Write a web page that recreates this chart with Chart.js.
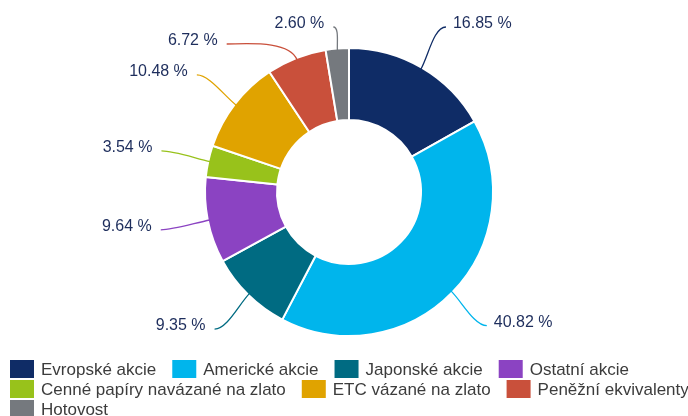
<!DOCTYPE html>
<html>
<head>
<meta charset="utf-8">
<script src="https://cdn.jsdelivr.net/npm/chart.js@4/dist/chart.umd.min.js"></script>
<style>
  html, body { margin: 0; padding: 0; background: #ffffff; }
  #wrap { position: relative; width: 688px; height: 416px; }
</style>
</head>
<body>
<div id="wrap"><canvas id="c" width="688" height="416"></canvas></div>
<script>
const categories = [
  'Evropské akcie',
  'Americké akcie',
  'Japonské akcie',
  'Ostatní akcie',
  'Cenné papíry navázané na zlato',
  'ETC vázané na zlato',
  'Peněžní ekvivalenty',
  'Hotovost'
];
const shares = [16.85, 40.82, 9.35, 9.64, 3.54, 10.48, 6.72, 2.60];
const sliceColors = ['#0f2c66', '#00b5ec', '#006b82', '#8b43c2', '#98c21b', '#e0a300', '#c9503b', '#75797e'];

const LABEL_FONT = '16px "Liberation Sans", Arial, sans-serif';
const LABEL_COLOR = '#1d2d5c';
const LEGEND_FONT = '17px "Liberation Sans", Arial, sans-serif';
const LEGEND_COLOR = '#3c3c3c';

function fmt(v) { return v.toFixed(2) + ' %'; }

const outsideLabels = {
  id: 'outsideLabels',
  afterDatasetsDraw(chart) {
    const ctx = chart.ctx;
    const meta = chart.getDatasetMeta(0);
    const data = chart.data.datasets[0].data;
    const labelR = 192, minY = 27, gapY = 17;
    const items = meta.data.map((arc, i) => {
      const p = arc.getProps(['x', 'y', 'startAngle', 'endAngle', 'outerRadius'], true);
      const mid = (p.startAngle + p.endAngle) / 2;
      const dx = Math.cos(mid), dy = Math.sin(mid);
      return {
        i, cx: p.x, cy: p.y, dx, dy, R: p.outerRadius,
        side: dx >= 0 ? 1 : -1,
        ex: p.x + labelR * dx, ey: p.y + labelR * dy
      };
    });
    [1, -1].forEach(side => {
      const list = items.filter(it => it.side === side).sort((a, b) => a.ey - b.ey);
      let prev = -Infinity;
      list.forEach(it => {
        let y = Math.max(it.ey, minY);
        if (y < prev + gapY) {
          y = prev + gapY;
          const ddy = y - it.cy;
          const ddx = Math.sqrt(Math.max(labelR * labelR - ddy * ddy, 0));
          it.ex = it.cx + side * ddx;
        }
        it.ey = y;
        prev = y;
      });
    });
    ctx.save();
    items.forEach(it => {
      const sx = it.cx + (it.R - 2) * it.dx;
      const sy = it.cy + (it.R - 2) * it.dy;
      const L = Math.hypot(it.ex - sx, it.ey - sy);
      const c1x = sx + it.dx * L * 0.3, c1y = sy + it.dy * L * 0.3;
      const c2x = it.ex - it.side * L * 0.25, c2y = it.ey;
      ctx.beginPath();
      ctx.moveTo(sx, sy);
      ctx.bezierCurveTo(c1x, c1y, c2x, c2y, it.ex, it.ey);
      ctx.strokeStyle = sliceColors[it.i];
      ctx.lineWidth = 1.3;
      ctx.stroke();
      ctx.font = LABEL_FONT;
      ctx.fillStyle = LABEL_COLOR;
      ctx.textBaseline = 'middle';
      ctx.textAlign = it.side > 0 ? 'left' : 'right';
      ctx.fillText(fmt(data[it.i]), it.ex + it.side * (it.side > 0 ? 7 : 9), it.ey - 3);
    });
    ctx.restore();
  }
};

const customLegend = {
  id: 'customLegend',
  afterDraw(chart) {
    const ctx = chart.ctx;
    const boxW = 24, boxH = 18, textGap = 7, itemGap = 16, rowPitch = 20;
    const startX = 10, startY = 360, maxX = chart.width + 4;
    ctx.save();
    ctx.font = LEGEND_FONT;
    ctx.textBaseline = 'middle';
    ctx.textAlign = 'left';
    let x = startX, y = startY;
    categories.forEach((name, i) => {
      const w = boxW + textGap + ctx.measureText(name).width;
      if (x > startX && x + w > maxX) { x = startX; y += rowPitch; }
      ctx.fillStyle = sliceColors[i];
      ctx.fillRect(x, y, boxW, boxH);
      ctx.fillStyle = LEGEND_COLOR;
      ctx.fillText(name, x + boxW + textGap, y + boxH / 2 + 1);
      x += w + itemGap;
    });
    ctx.restore();
  }
};

new Chart(document.getElementById('c'), {
  type: 'doughnut',
  data: {
    labels: categories,
    datasets: [{
      data: shares,
      backgroundColor: sliceColors,
      borderColor: '#ffffff',
      borderWidth: 2,
      hoverOffset: 0
    }]
  },
  options: {
    responsive: false,
    animation: false,
    radius: 144,
    cutout: '50%',
    layout: { padding: { left: 10, right: 0, top: 0, bottom: 32 } },
    plugins: {
      legend: { display: false },
      tooltip: { enabled: false },
      title: { display: false }
    }
  },
  plugins: [outsideLabels, customLegend]
});
</script>
</body>
</html>
